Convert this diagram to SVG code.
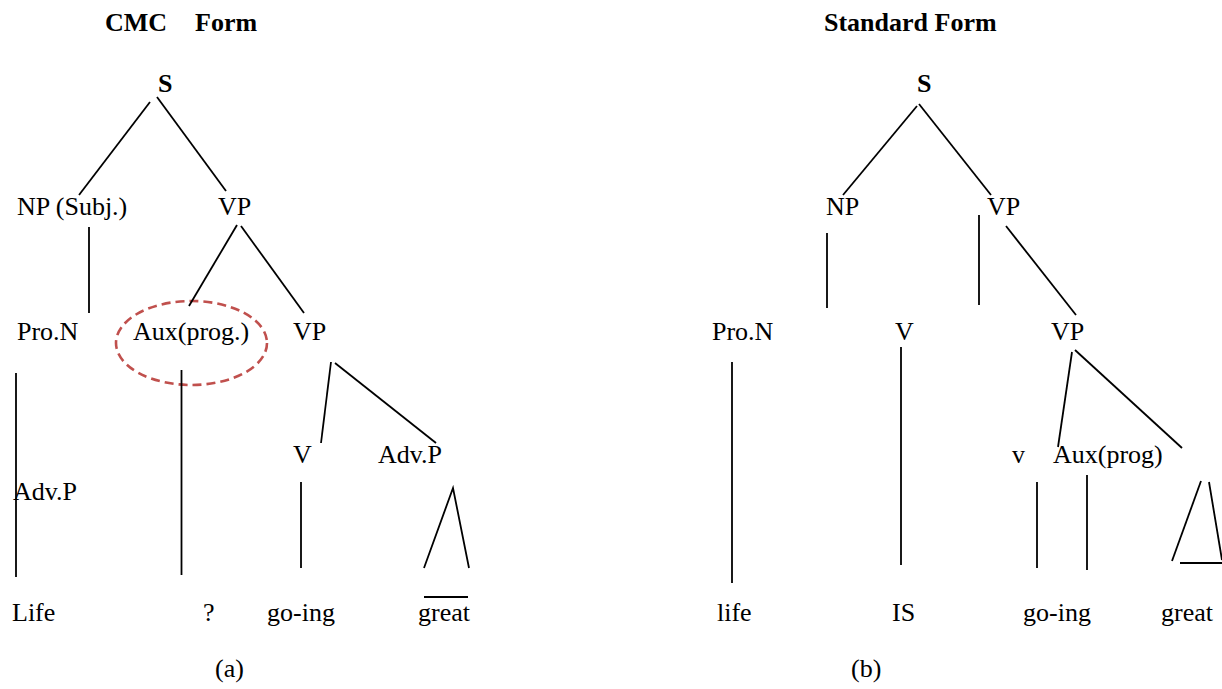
<svg xmlns="http://www.w3.org/2000/svg" width="1222" height="689" viewBox="0 0 1222 689" font-family="Liberation Serif" font-size="26">
  <style>
    text { font-family: 'Liberation Serif', 'DejaVu Serif', serif; font-size: 26px; fill: #000; }
    .title { font-weight: bold; }
    .edge { stroke: #000; stroke-width: 1.8; fill: none; stroke-linecap: butt; }
    .mark { fill: none; stroke: #c0504d; stroke-width: 2.6; stroke-dasharray: 9 5; }
  </style>
  <rect width="1222" height="689" fill="#fff"/>

  <!-- (a) CMC form tree -->
  <g id="tree-a">
    <text id="title-a" class="title" x="105" y="31">CMC<tspan x="195">Form</tspan></text>
    <g id="a-s"><text class="title" x="158" y="92">S</text></g>
    <g id="a-np"><text x="17" y="215">NP (Subj.)</text></g>
    <g id="a-vp"><text x="218" y="215">VP</text></g>
    <g id="a-pron"><text x="17" y="340">Pro.N</text></g>
    <g id="a-aux">
      <ellipse class="mark" cx="191.5" cy="343" rx="75.5" ry="42"/>
      <text x="133" y="340">Aux(prog.)</text>
    </g>
    <g id="a-vp2"><text x="293" y="340">VP</text></g>
    <g id="a-v"><text x="293" y="463">V</text></g>
    <g id="a-advp"><text x="378" y="463">Adv.P</text></g>
    <g id="a-advp-left"><text x="13" y="500">Adv.P</text></g>
    <g id="a-life"><text x="12" y="621">Life</text></g>
    <g id="a-q"><text x="203" y="621">?</text></g>
    <g id="a-going"><text x="267" y="621">go-ing</text></g>
    <g id="a-great"><text x="418" y="621">great</text></g>
    <text id="cap-a" x="215" y="677">(a)</text>
  </g>

  <!-- (b) standard form tree -->
  <g id="tree-b">
    <text id="title-b" class="title" x="824" y="31">Standard Form</text>
    <g id="b-s"><text class="title" x="917" y="92">S</text></g>
    <g id="b-np"><text x="826" y="215">NP</text></g>
    <g id="b-vp"><text x="987" y="215">VP</text></g>
    <g id="b-pron"><text x="712" y="340">Pro.N</text></g>
    <g id="b-v"><text x="895" y="340">V</text></g>
    <g id="b-vp2"><text x="1051" y="340">VP</text></g>
    <g id="b-v-small"><text x="1012" y="463">v</text></g>
    <g id="b-aux"><text x="1053" y="463">Aux(prog)</text></g>
    <g id="b-life"><text x="717" y="621">life</text></g>
    <g id="b-is"><text x="892" y="621">IS</text></g>
    <g id="b-going"><text x="1023" y="621">go-ing</text></g>
    <g id="b-great"><text x="1161" y="621">great</text></g>
    <text id="cap-b" x="851" y="677">(b)</text>
  </g>

  <!-- branches -->
  <g id="connectors" class="edge">
    <!-- tree (a) -->
    <line x1="150" y1="102" x2="79" y2="195"/>
    <line x1="157" y1="97" x2="226" y2="191"/>
    <line x1="89" y1="227" x2="89" y2="313"/>
    <line x1="237" y1="225" x2="189" y2="306"/>
    <line x1="241" y1="226" x2="304" y2="313"/>
    <line x1="16" y1="373" x2="16" y2="577"/>
    <line x1="181.5" y1="370" x2="181.5" y2="575"/>
    <line x1="331" y1="362" x2="321" y2="443"/>
    <line x1="335" y1="363" x2="436" y2="443"/>
    <line x1="301" y1="482" x2="301" y2="568"/>
    <polyline points="424,568 453,488 469,568"/>
    <line x1="424" y1="597" x2="468" y2="597"/>
    <!-- tree (b) -->
    <line x1="917" y1="106" x2="843" y2="195"/>
    <line x1="919" y1="104" x2="991" y2="195"/>
    <line x1="827" y1="233" x2="827" y2="308"/>
    <line x1="979" y1="215" x2="979" y2="305"/>
    <line x1="1006" y1="226" x2="1076" y2="315"/>
    <line x1="732" y1="362" x2="732" y2="583"/>
    <line x1="901" y1="347" x2="901" y2="565"/>
    <line x1="1072" y1="352" x2="1058" y2="447"/>
    <line x1="1075" y1="350" x2="1182" y2="448"/>
    <line x1="1037" y1="482" x2="1037" y2="568"/>
    <line x1="1087" y1="475" x2="1087" y2="570"/>
    <line x1="1201" y1="481" x2="1172" y2="561"/>
    <line x1="1209" y1="482" x2="1222" y2="560"/>
    <line x1="1180" y1="563" x2="1222" y2="563"/>
  </g>
</svg>
